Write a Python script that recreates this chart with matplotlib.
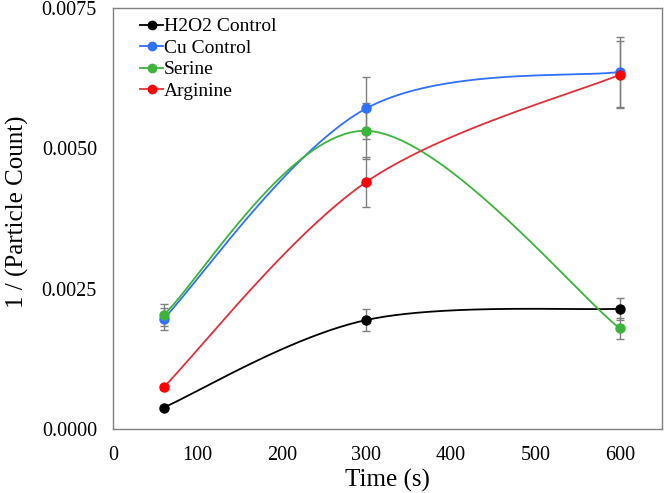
import numpy as np
import matplotlib.pyplot as plt
from matplotlib.lines import Line2D

plt.rcParams['font.family'] = ['Liberation Serif', 'DejaVu Serif']

# data
time = [60, 300, 600]
names = ["H2O2 Control", "Cu Control", "Serine", "Arginine"]
h2o2 = [0.00038, 0.00194, 0.00214]
cu = [0.00196, 0.00571, 0.00636]
serine = [0.00203, 0.00531, 0.00179]
arginine = [0.00074, 0.00440, 0.00631]
h2o2_err = [0.00003, 0.00020, 0.00020]
cu_err = [0.00020, 0.00055, 0.00062]
serine_err = [0.00020, 0.00050, 0.00019]
arginine_err = [0.00005, 0.00045, 0.00060]
colors = ['#000000', '#3070ff', '#3cb43c', '#ff0000']
line_colors = ['#000000', '#3070ff', '#3cb43c', '#e0303a']


def smooth(x, y, n=80):
    # Excel-style smoothed line (Catmull-Rom bezier through the points)
    p = np.column_stack([x, y]).astype(float)
    last = len(p) - 1
    out = []
    t = np.linspace(0, 1, n)[:, None]
    for i in range(last):
        p0 = p[max(i - 1, 0)]
        p1 = p[i]
        p2 = p[i + 1]
        p3 = p[min(i + 2, last)]
        c1 = p1 + (p2 - p0) / 6
        c2 = p2 - (p3 - p1) / 6
        b = ((1 - t) ** 3) * p1 + 3 * ((1 - t) ** 2) * t * c1 + 3 * (1 - t) * t ** 2 * c2 + t ** 3 * p2
        out.append(b)
    out = np.vstack(out)
    return out[:, 0], out[:, 1]


fig = plt.figure(figsize=(6.64, 4.93), dpi=100)
ax = fig.add_axes([0.170, 0.130, 0.827, 0.854])

series = [h2o2, cu, serine, arginine]
errs = [h2o2_err, cu_err, serine_err, arginine_err]

for vals, err in zip(series, errs):
    ax.errorbar(time, vals, yerr=err, fmt='none', ecolor='#7f7f7f',
                elinewidth=1, capsize=3, capthick=1, zorder=1)

handles = []
for vals, c, lc, name in zip(series, colors, line_colors, names):
    sx, sy = smooth(time, vals)
    ax.plot(sx, sy, color=lc, lw=1.3, zorder=2)
    ax.plot(time, vals, 'o', color=c, ms=6.5, zorder=3)
    handles.append(Line2D([0], [0], color=lc, lw=1.3, marker='o', ms=6,
                          markerfacecolor=c, markeredgecolor=c, label=name))

ax.set_xlim(0, 650)
ax.set_ylim(0, 0.0075)
ax.set_xticks([0, 100, 200, 300, 400, 500, 600])
ax.set_yticks([0, 0.0025, 0.005, 0.0075])
ax.set_yticklabels(['0.0000', '0.0025', '0.0050', '0.0075'])
ax.tick_params(length=0, labelsize=14.5)
ax.tick_params(axis='x', pad=12)
ax.tick_params(axis='y', pad=11.5)
for s in ax.spines.values():
    s.set_color('#808080')
    s.set_linewidth(1)

ax.set_xlabel('Time (s)', fontsize=18, labelpad=3)
ax.set_ylabel('1 / (Particle Count)', fontsize=18)
ax.yaxis.set_label_coords(-0.153, 0.515)

ax.legend(handles=handles, loc='upper left', bbox_to_anchor=(0.035, 0.995),
          frameon=False, fontsize=14, handlelength=1.2, handletextpad=0.05,
          labelspacing=0.2, borderaxespad=0)

fig.savefig('out.png', dpi=100)
